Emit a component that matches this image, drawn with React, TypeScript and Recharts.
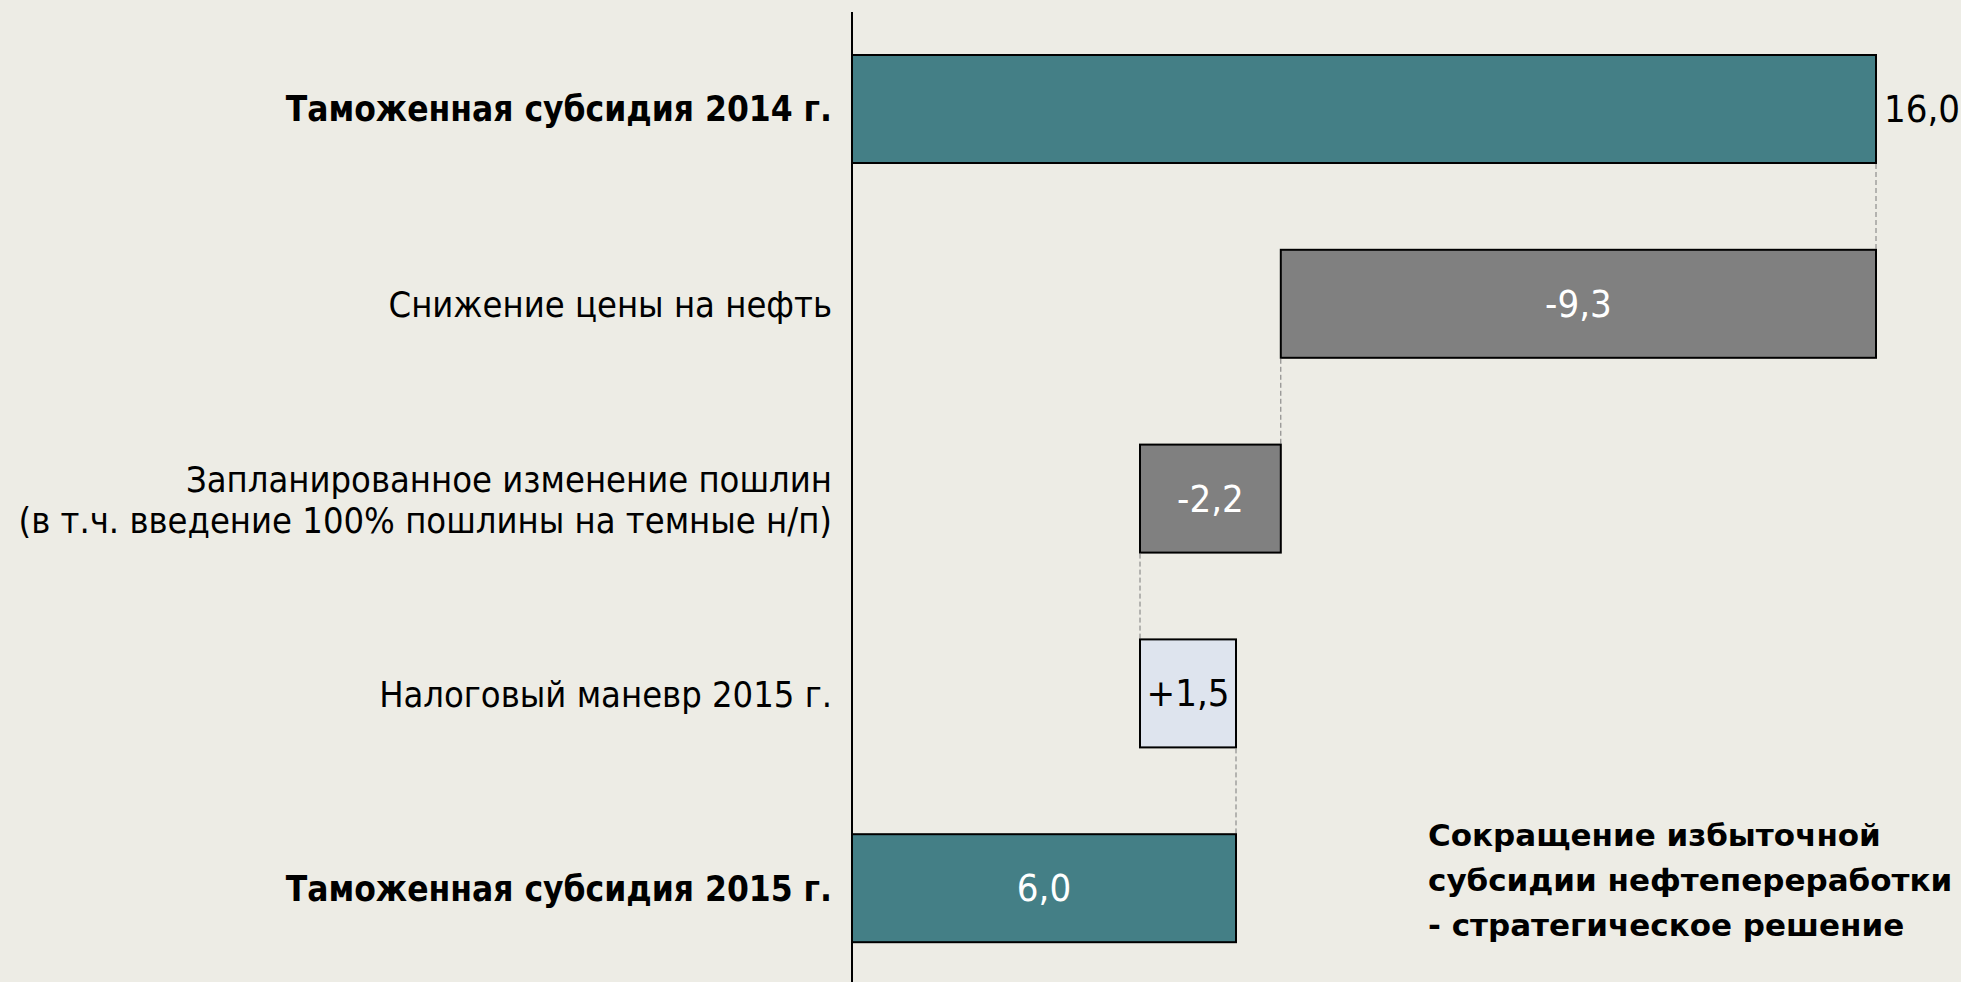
import React from 'react'
import { BarChart, Bar, XAxis, YAxis, LabelList } from 'recharts'

// waterfall: таможенная субсидия 2014 -> 2015, млрд $
const categories = [
  'Таможенная субсидия 2014 г.',
  'Снижение цены на нефть',
  'Запланированное изменение пошлин\n(в т.ч. введение 100% пошлины на темные н/п)',
  'Налоговый маневр 2015 г.',
  'Таможенная субсидия 2015 г.',
]
const deltas = [16.0, -9.3, -2.2, 1.5, 6.0]
const kinds = ['total', 'decrease', 'decrease', 'increase', 'total']
const valueLabels = ['16,0', '-9,3', '-2,2', '+1,5', '6,0']
const boldRows = [true, false, false, false, true]
const noteLines = [
  'Сокращение избыточной',
  'субсидии нефтепереработки',
  '- стратегическое решение',
]

const W = 1961
const H = 986
const TOP = 12
const BAR = 108
const BAND = (H - TOP) / categories.length
const FONT = "'DejaVu Sans Condensed', 'DejaVu Sans', sans-serif"

const fills: Record<string, string> = {
  total: '#447f86',
  decrease: '#808080',
  increase: '#dee4ee',
}

let running = 0
const data = categories.map((name, i) => {
  const d = deltas[i]
  let base = 0
  let size = d
  if (kinds[i] === 'total') {
    running = d
  } else {
    const end = running + d
    base = Math.min(running, end)
    size = Math.abs(d)
    running = end
  }
  return { name, base, size, kind: kinds[i], label: valueLabels[i] }
})

const StepShape = (props: any) => {
  const { x, y, width, height, index, payload } = props
  const kind = payload.kind
  const last = index === data.length - 1
  const cx = kind === 'decrease' ? x : x + width
  return (
    <g>
      <rect x={x} y={y} width={width} height={height} fill={fills[kind]} stroke="#000" strokeWidth={2} />
      {!last && (
        <line
          x1={cx}
          x2={cx}
          y1={y + height + 1}
          y2={y + height + (BAND - BAR) - 1}
          stroke="#7a7a7a"
          strokeWidth={1}
          strokeDasharray="5 3"
        />
      )}
    </g>
  )
}

const CategoryTick = ({ x, y, payload, index }: any) => {
  const lines = String(payload.value).split('\n')
  const bold = boldRows[index]
  const lh = 41
  const start = y - ((lines.length - 1) * lh) / 2
  return (
    <text
      x={x}
      y={start}
      textAnchor="end"
      dominantBaseline="central"
      fontFamily={FONT}
      fontSize={bold ? 35 : 36}
      fontWeight={bold ? 700 : 400}
      fill="#000"
    >
      {lines.map((l, i) => (
        <tspan key={i} x={x} y={start + i * lh}>
          {l}
        </tspan>
      ))}
    </text>
  )
}

const ValueLabel = (props: any) => {
  const { x, y, width, height, index } = props
  const item = data[index]
  const outside = index === 0
  const color = item.kind === 'increase' || outside ? '#000' : '#fff'
  return (
    <text
      x={outside ? x + width + 8 : x + width / 2}
      y={y + height / 2}
      textAnchor={outside ? 'start' : 'middle'}
      dominantBaseline="central"
      fontFamily={FONT}
      fontSize={38}
      fill={color}
    >
      {item.label}
    </text>
  )
}

export default function App() {
  return (
    <div
      style={{
        position: 'relative',
        width: W,
        height: 982,
        overflow: 'hidden',
        background: '#edece5',
      }}
    >
      <style>{'body{margin:0;overflow:hidden}'}</style>
      <BarChart
        width={W}
        height={H}
        data={data}
        layout="vertical"
        margin={{ top: TOP, right: 85, bottom: 0, left: 0 }}
        barSize={BAR}
      >
        <XAxis type="number" domain={[0, 16]} hide />
        <YAxis
          type="category"
          dataKey="name"
          width={852}
          axisLine={{ stroke: '#000', strokeWidth: 2 }}
          tickLine={false}
          tickSize={0}
          tickMargin={20}
          tick={<CategoryTick />}
          interval={0}
        />
        <Bar dataKey="base" stackId="w" fill="transparent" isAnimationActive={false} />
        <Bar dataKey="size" stackId="w" shape={<StepShape />} isAnimationActive={false}>
          <LabelList dataKey="size" content={<ValueLabel />} />
        </Bar>
      </BarChart>
      <div
        style={{
          position: 'absolute',
          left: 1428,
          top: 813,
          fontFamily: "'DejaVu Sans', sans-serif",
          fontWeight: 700,
          fontSize: 31,
          lineHeight: '45px',
          color: '#000',
          whiteSpace: 'nowrap',
        }}
      >
        {noteLines.map((l, i) => (
          <div key={i}>{l}</div>
        ))}
      </div>
    </div>
  )
}
